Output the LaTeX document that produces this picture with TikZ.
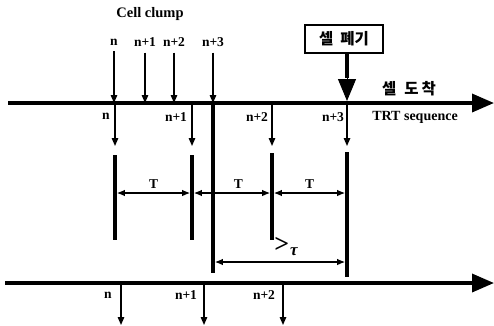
\documentclass[tikz,border=0pt]{standalone}
\usepackage{fontspec}
\setmainfont{Liberation Serif}
\newfontfamily\kr{Noto Sans CJK KR}
\usetikzlibrary{arrows.meta}
\begin{document}
\begin{tikzpicture}[x=1pt,y=-1pt,
  axis/.style={line width=3.5pt,-{Triangle[length=22pt,width=18pt]}},
  darr/.style={line width=1.4pt,-{Triangle[length=8pt,width=6.5pt]}},
  bar/.style={line width=3.5pt},
  dim/.style={line width=1.3pt,{Latex[length=8pt,width=6.5pt]}-{Latex[length=8pt,width=6.5pt]},shorten <=1.8pt,shorten >=1.8pt},
  lbl/.style={font=\bfseries\fontsize{13.5}{13.5}\selectfont,inner sep=1pt},
  krl/.style={font=\kr\bfseries\fontsize{15.5}{15.5}\selectfont,inner sep=1pt}]
\useasboundingbox (0,0) rectangle (494,325);
% top axis
\coordinate (a1s) at (8,103);
\coordinate (a1e) at (494,103);
\draw[axis] (a1s) -- (a1e);
% cell clump
\node[lbl,font=\fontsize{14.5}{14.5}\selectfont\bfseries] (cc) at (150,14) {Cell clump};
\node[lbl] (t0) at (114,42) {n};
\node[lbl] (t1) at (145,42) {n+1};
\node[lbl] (t2) at (174,42) {n+2};
\node[lbl] (t3) at (213,42) {n+3};
\foreach \t in {t0,t1,t2,t3}{
  \draw[darr,shorten <=5pt] (\t.south) -- (\t.south |- a1s);
}
% discard box
\node[draw,line width=1.3pt,minimum width=78pt,minimum height=28pt,krl] (box) at (344,39) {셀\hspace{7pt}폐기};
\coordinate (boxt) at (347,78);
\coordinate (boxe) at (347,101);
\draw[line width=4.5pt] (box.south -| boxt) -- (boxt);
\draw[line width=1pt,-{Triangle[length=22pt,width=18pt]}] (boxt) ++(0,-1) -- (boxe);
\node[krl] (arr) at (409,89) {셀\hspace{8pt}도\hspace{3pt}착};
\node[lbl,font=\bfseries\fontsize{14}{14}\selectfont] (trt) at (415,117) {TRT sequence};
% lower labels on top axis
\node[lbl] (u0) at (106,116) {n};
\node[lbl] (u1) at (176,117) {n+1};
\node[lbl] (u2) at (257,117) {n+2};
\node[lbl] (u3) at (333,117) {n+3};
\coordinate (b0) at (115,103);
\coordinate (b1) at (192,103);
\coordinate (b2) at (272,103);
\coordinate (b3) at (347,103);
\foreach \b in {b0,b1,b2,b3}{
  \draw[darr] (\b) -- ++(0,43);
}
% bars
\draw[bar] (115,155) coordinate (p0) -- (115,240);
\draw[bar] (192,155) coordinate (p1) -- (192,240);
\draw[bar] (272,153) coordinate (p2) -- (272,240);
\draw[bar] (347,152) coordinate (p3) -- (347,277);
\draw[bar] (213,103) coordinate (pm) -- (213,273);
% T dimensions
\coordinate (d0) at (115,193);
\coordinate (d1) at (192,193);
\coordinate (d2) at (272,193);
\coordinate (d3) at (347,193);
\draw[dim] (d0) -- (d1) node[lbl,midway,above=3pt] (T1) {T};
\draw[dim] (d1) -- (d2) node[lbl,pos=0.58,above=3pt] (T2) {T};
\draw[dim] (d2) -- (d3) node[lbl,midway,above=3pt] (T3) {T};
% > tau
\coordinate (e0) at (213,262);
\coordinate (e1) at (347,262);
\draw[dim] (e0) -- (e1);
\node[inner sep=0pt,font=\bfseries] (gt) at (286,247) {{\fontsize{26}{26}\selectfont >}\kern1pt\raisebox{-3pt}{\fontsize{17}{17}\selectfont\itshape τ}};
% bottom axis
\coordinate (a2s) at (5,283);
\coordinate (a2e) at (494,283);
\draw[axis] (a2s) -- (a2e);
\node[lbl] (v0) at (108,295) {n};
\node[lbl] (v1) at (186,295) {n+1};
\node[lbl] (v2) at (264,295) {n+2};
\coordinate (c0) at (121,283);
\coordinate (c1) at (204,283);
\coordinate (c2) at (283,283);
\foreach \c in {c0,c1,c2}{
  \draw[darr] (\c) -- ++(0,42);
}
\end{tikzpicture}
\end{document}
